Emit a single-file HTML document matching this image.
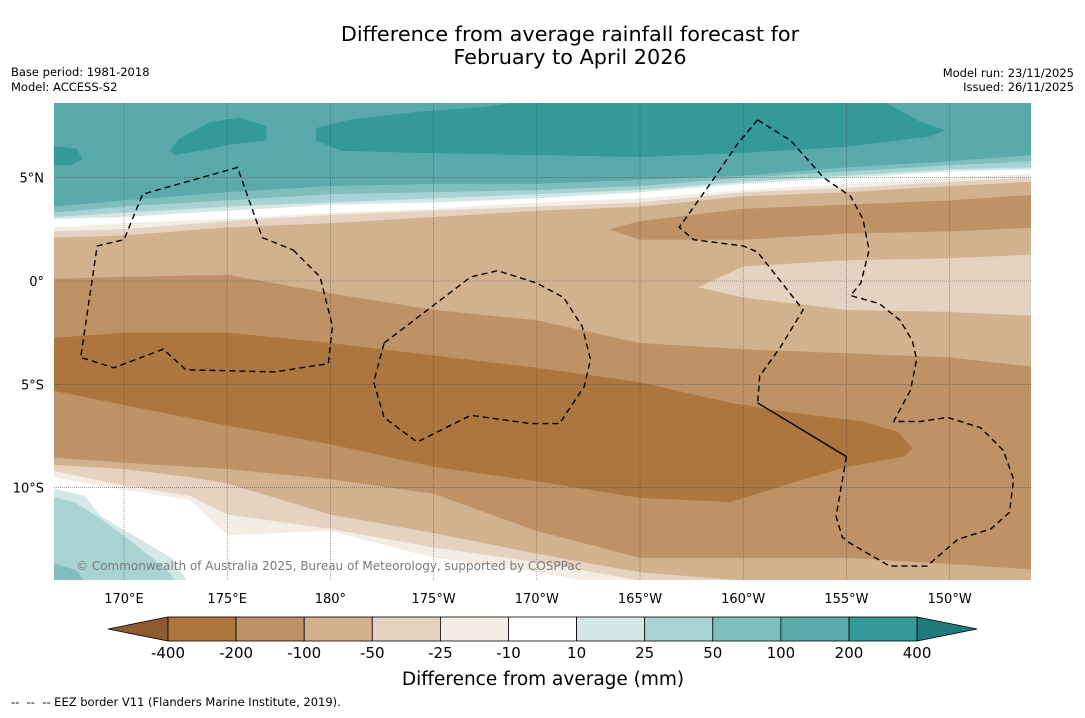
<!DOCTYPE html>
<html><head><meta charset="utf-8"><style>
body{margin:0;background:#fff;width:1085px;height:713px;overflow:hidden;font-family:"Liberation Sans",sans-serif}
svg text{font-family:"DejaVu Sans","Liberation Sans",sans-serif}
</style></head><body>
<svg id="s" width="1085" height="713" xmlns="http://www.w3.org/2000/svg">
<text x="570" y="41" font-size="20.8" text-anchor="middle">Difference from average rainfall forecast for</text>
<text x="570" y="64" font-size="20.8" text-anchor="middle">February to April 2026</text>
<text x="11" y="76" font-size="11.5">Base period: 1981-2018</text>
<text x="11" y="91" font-size="11.5">Model: ACCESS-S2</text>
<text x="1074" y="77" font-size="11.5" text-anchor="end">Model run: 23/11/2025</text>
<text x="1074" y="91" font-size="11.5" text-anchor="end">Issued: 26/11/2025</text>
<defs><clipPath id="cp"><rect x="54" y="103" width="977" height="477"/></clipPath></defs>
<g id="map" clip-path="url(#cp)"></g>
<g id="axes"></g>
<g id="cbar"></g>
<text x="543" y="685" font-size="18.5" text-anchor="middle">Difference from average (mm)</text>
<text x="11" y="706" font-size="11.5" xml:space="preserve">--  --  -- EEZ border V11 (Flanders Marine Institute, 2019).</text>
</svg>
<script>
// colour scale
const levels=[-400,-200,-100,-50,-25,-10,10,25,50,100,200,400];
const bandColors=["#ad763f","#bf9265","#d2b18f","#e5d2c0","#f3ede6","#ffffff","#d5e8e8","#a9d3d3","#80bebe","#5aaaab","#339999"];
const lonTicks=[170,175,180,185,190,195,200,205,210];
const lonLabels=["170°E","175°E","180°","175°W","170°W","165°W","160°W","155°W","150°W"];
const latTicks=[5,0,-5,-10];
const latLabels=["5°N","0°","5°S","10°S"];
// northern contour lines: lat at lineLons
const lineLons=[166.6,170,175,180,185,190,195,200,205,210,214];
const north100=[3.6,3.9,4.3,4.6,4.7,4.7,4.9,5.1,5.5,5.8,6.1];
const north50=[3.3,3.6,3.9,4.2,4.3,4.4,4.6,5.0,5.3,5.6,5.8];
const north25=[3.1,3.3,3.6,3.8,4.0,4.2,4.4,4.8,5.1,5.4,5.5];
const north10=[3.0,3.1,3.4,3.7,3.8,4.0,4.3,4.7,5.0,5.3,5.4];
const northM10=[2.6,2.8,3.0,3.3,3.5,3.8,4.0,4.4,4.7,5.0,5.2];
const northM25=[2.4,2.5,2.9,3.2,3.4,3.6,3.8,4.3,4.5,4.8,5.0];
const northM50=[2.1,2.2,2.6,2.8,3.1,3.4,3.6,4.1,4.3,4.6,4.8];
// southern contour lines
const southLons=[166.6,170,173.2,175,180,185,190,195,200,205,210,214];
const southM50=[-8.9,-9.1,-9.5,-9.8,-11.3,-12.2,-13.2,-14.1,-14.5,-15,-15,-15];
const southM25=[-9.2,-9.9,-10.4,-11.3,-12.0,-12.9,-13.6,-14.5,-15,-15,-15,-15];
const southM10=[-9.5,-10.1,-10.6,-12.3,-12.1,-13.4,-14.1,-15,-15,-15,-15,-15];
// region polygons [lon,lat]
const regionM100=[[166.6,0.1],[170,0.2],[175,0.3],[180,-0.6],[185,-1.4],[190,-1.9],[195,-3.0],[200,-3.3],[205,-3.5],[210,-3.7],[214.5,-4.2],[214.5,-14.0],[210,-13.7],[205,-13.4],[195,-13.4],[190,-12.1],[185,-10.3],[180,-9.6],[175,-9.1],[170,-8.8],[166,-8.5]];
const regionM100n=[[193.5,2.5],[195,2.9],[200,3.5],[205,3.7],[210,3.9],[214.5,4.2],[214.5,2.6],[210,2.4],[205,2.3],[200,2.0],[195,2.0]];
const regionM25e=[[197.8,-0.3],[200,0.7],[205,1.0],[210,1.1],[214.5,1.3],[214.5,-1.7],[210,-1.5],[205,-1.4],[200,-0.8]];
const regionM200=[[166,-2.8],[170,-2.5],[175,-2.5],[180,-3.0],[185,-3.6],[190,-4.2],[195,-4.9],[199.4,-5.9],[202.6,-6.4],[205.8,-6.8],[207.5,-7.3],[208.2,-8.1],[207.8,-8.5],[205,-9.0],[202.6,-9.7],[199.4,-10.7],[195,-10.5],[190,-9.7],[185,-9.0],[180,-7.9],[175,-7.0],[170,-6.0],[166,-5.2]];
const region200a=[[179.3,7.4],[180.9,7.8],[184.3,8.2],[187.2,8.4],[190.2,8.8],[206.6,8.8],[208.6,7.7],[209.8,7.3],[209.1,7.0],[207.5,6.8],[205,6.5],[200,6.2],[195,6.0],[189.7,6.1],[184.3,6.2],[180.5,6.3],[179.3,6.8]];
const region200b=[[172.2,6.3],[172.7,6.9],[174.2,7.7],[175.6,7.9],[176.9,7.5],[176.9,6.8],[175.1,6.6],[173.7,6.3],[172.5,6.1]];
const region200c=[[166,6.6],[167.7,6.4],[168.0,5.9],[167.4,5.6],[166,5.6]];
const region10sw=[[166,-9.9],[168.1,-10.4],[168.9,-11.4],[170.6,-12.4],[172.3,-13.4],[173.4,-15],[166,-15]];
const region25sw=[[166,-10.3],[167.6,-10.7],[168.7,-11.4],[170.1,-12.4],[171.1,-13.2],[172.2,-14.1],[172.8,-15],[166,-15]];
const region50sw=[[166,-13.5],[167.7,-14.0],[168.4,-15],[166,-15]];
// EEZ borders
const eezA=[[178.2,1.5],[179.5,0.2],[180.1,-2.2],[179.9,-4.0],[177.3,-4.4],[173.0,-4.3],[171.9,-3.3],[169.5,-4.2],[167.9,-3.7],[168.7,1.7],[170,2.0],[170.9,4.2],[175.5,5.5],[176.7,2.1],[178.2,1.5]];
const eezB=[[182.6,-3.0],[186.8,0.2],[188.1,0.5],[190,-0.1],[191.3,-0.8],[192.2,-2.2],[192.6,-3.8],[192.3,-5.1],[191.1,-6.9],[189.7,-6.9],[186.8,-6.5],[184.2,-7.8],[182.6,-6.6],[182.1,-4.9],[182.6,-3.0]];
const eezC1=[[200.7,7.8],[202.3,6.8],[203.9,5.0],[205.2,4.1],[205.8,3.0],[206.1,1.5],[205.7,-0.1],[205.2,-0.7],[206.6,-1.1],[207.6,-1.9],[208.2,-2.9],[208.4,-3.8],[208.1,-5.3],[207.5,-6.4],[207.3,-6.8],[208.6,-6.8],[209.9,-6.6],[211.5,-7.1],[212.6,-8.2],[213.1,-9.6],[212.9,-11.2],[212.0,-12.0],[210.4,-12.5],[208.9,-13.8],[207.1,-13.8],[205.2,-12.7],[204.8,-12.4],[204.5,-11.4],[205.0,-8.5]];
const eezC2=[[200.7,7.8],[199.7,6.6],[198.4,4.7],[196.9,2.6],[197.6,2.0],[200,1.7],[200.7,1.4],[202.9,-1.4],[201.8,-3.2],[200.8,-4.6],[200.7,-5.9]];
const eezSolid=[[200.7,-5.9],[205.0,-8.5]];

const NS="http://www.w3.org/2000/svg";
const X=lon=>124+(lon-170)*20.64, Y=lat=>281-lat*20.66;
const map=document.getElementById('map');
function mk(tag,attrs,parent){const e=document.createElementNS(NS,tag);for(const k in attrs)e.setAttribute(k,attrs[k]);parent.appendChild(e);return e;}
function polyPts(arr){return arr.map(p=>X(p[0]).toFixed(1)+","+Y(p[1]).toFixed(1)).join(" ");}
function fillPoly(arr,col,name){const e=mk('polygon',{points:polyPts(arr),fill:col},map);

}
function fromTop(lons,lats){return [[lons[0]-1,10]].concat(lons.map((l,i)=>[l,lats[i]])).concat([[lons[lons.length-1]+1,lats[lats.length-1]],[lons[lons.length-1]+1,10]]);}
function toBottom(lons,lats){return [[lons[0]-1,-16]].concat([[lons[0]-1,lats[0]]]).concat(lons.map((l,i)=>[l,lats[i]])).concat([[lons[lons.length-1]+1,lats[lats.length-1]],[lons[lons.length-1]+1,-16]]);}
const bg=mk('rect',{x:54,y:103,width:977,height:477,fill:bandColors[2]},map);


fillPoly(toBottom(southLons,southM50),bandColors[3],'band-minus50-minus25-south');
fillPoly(toBottom(southLons,southM25),bandColors[4],'band-minus25-minus10-south');
fillPoly(toBottom(southLons,southM10),bandColors[5],'band-minus10-10-south');
fillPoly(region10sw,bandColors[6],'band-10-25-southwest');
fillPoly(region25sw,bandColors[7],'band-25-50-southwest');
fillPoly(region50sw,bandColors[8],'band-50-100-southwest');
fillPoly(regionM100,bandColors[1],'band-minus200-minus100');
fillPoly(regionM100n,bandColors[1],'band-minus200-minus100-north');
fillPoly(regionM25e,bandColors[3],'band-minus50-minus25-east');
fillPoly(regionM200,bandColors[0],'band-minus400-minus200');
fillPoly(fromTop(lineLons,northM50),bandColors[3],'band-minus50-minus25-north');
fillPoly(fromTop(lineLons,northM25),bandColors[4],'band-minus25-minus10-north');
fillPoly(fromTop(lineLons,northM10),bandColors[5],'band-minus10-10-north');
fillPoly(fromTop(lineLons,north10),bandColors[6],'band-10-25-north');
fillPoly(fromTop(lineLons,north25),bandColors[7],'band-25-50-north');
fillPoly(fromTop(lineLons,north50),bandColors[8],'band-50-100-north');
fillPoly(fromTop(lineLons,north100),bandColors[9],'band-100-200-north');
fillPoly(region200a,bandColors[10],'band-200-400-strip');
fillPoly(region200b,bandColors[10],'band-200-400-blob');
fillPoly(region200c,bandColors[10],'band-200-400-west');
// gridlines
lonTicks.forEach(l=>{const e=mk('line',{x1:X(l),x2:X(l),y1:103,y2:580,stroke:'#444','stroke-width':0.6,'stroke-dasharray':'1,1','stroke-opacity':0.8},map);

});
latTicks.forEach(l=>{const e=mk('line',{x1:54,x2:1031,y1:Y(l),y2:Y(l),stroke:'#444','stroke-width':0.6,'stroke-dasharray':'1,1','stroke-opacity':0.8},map);

});
// EEZ
[[eezA,'eez-border-west'],[eezB,'eez-border-central'],[eezC1,'eez-border-east'],[eezC2,'eez-border-northeast']].forEach(([a,n])=>{const e=mk('polyline',{points:polyPts(a),fill:'none',stroke:'#000','stroke-width':1.4,'stroke-dasharray':'6,4'},map);

});
const sl=mk('polyline',{points:polyPts(eezSolid),fill:'none',stroke:'#000','stroke-width':1.4},map);


const cr=mk('text',{x:76,y:570,'font-size':12,fill:'#7a7a7a'},map);cr.textContent='© Commonwealth of Australia 2025, Bureau of Meteorology, supported by COSPPac';


// axes labels
const ax=document.getElementById('axes');
lonTicks.forEach((l,i)=>{const t=mk('text',{x:X(l),y:603,'font-size':13,'text-anchor':'middle'},ax);t.textContent=lonLabels[i];

});
latTicks.forEach((l,i)=>{const t=mk('text',{x:44,y:Y(l)+5,'font-size':13,'text-anchor':'end'},ax);t.textContent=latLabels[i];

});
// colorbar
const cb=document.getElementById('cbar');
const cx0=168,cw=68.1,cy=617,ch=24;
const CX=i=>cx0+i*cw;
const la=mk('polygon',{points:`108,${cy+ch/2} ${cx0},${cy} ${cx0},${cy+ch}`,fill:'#8d5b2d',stroke:'#000','stroke-width':0.8},cb);


bandColors.forEach((c,i)=>{const r=mk('rect',{x:CX(i),y:cy,width:cw,height:ch,fill:c,stroke:'#000','stroke-width':0.8},cb);

});
const ra=mk('polygon',{points:`${CX(11)},${cy} ${CX(11)+60},${cy+ch/2} ${CX(11)},${cy+ch}`,fill:'#1d7b7b',stroke:'#000','stroke-width':0.8},cb);


levels.forEach((v,i)=>{const t=mk('text',{x:CX(i),y:658,'font-size':15,'text-anchor':'middle'},cb);t.textContent=v;

});
</script>
</body></html>
